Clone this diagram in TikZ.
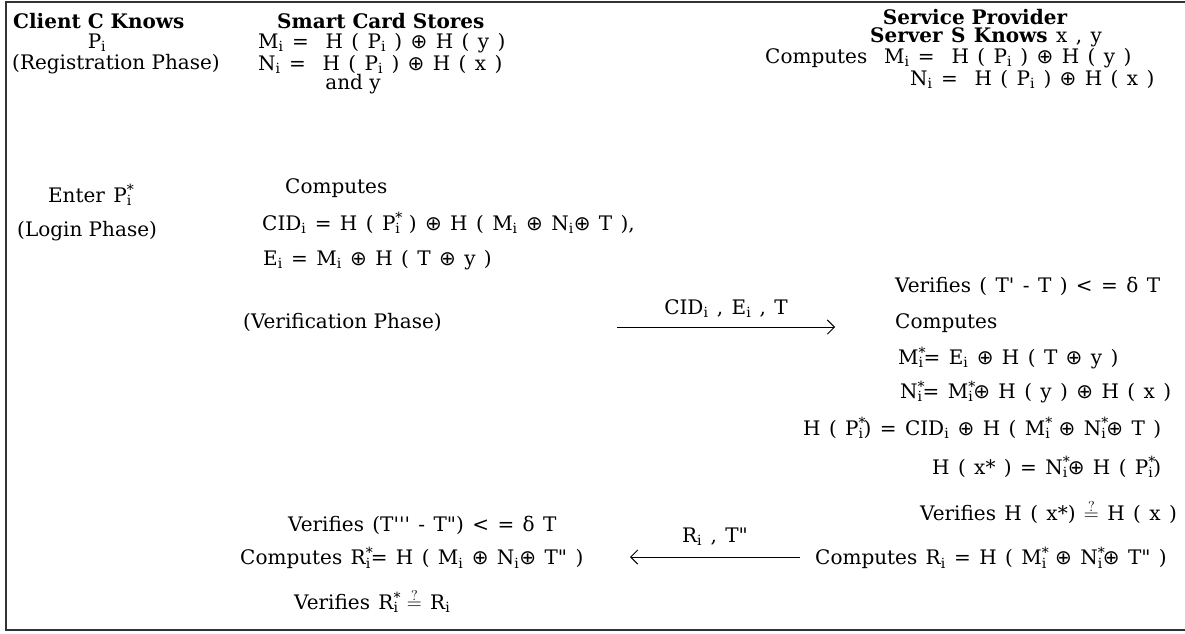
\documentclass[tikz,border=0pt]{standalone}
\usepackage{fontspec}
\setmainfont{DejaVu Serif}
\newfontfamily\symfont{DejaVu Sans}
\usetikzlibrary{positioning,arrows.meta}

\newcommand{\sub}[1]{\textsubscript{#1}}
\newcommand{\str}[1]{#1\rlap{\textsuperscript{*}}\textsubscript{i}}
\newcommand{\xo}{{\symfont ⊕}}
\newcommand{\qeq}{\ensuremath{\stackrel{?}{=}}}
\newcommand{\pr}{\textquotesingle}
\newcommand{\dpr}{\textquotedbl}
\newcommand{\eqfont}{\fontsize{20}{22}\selectfont\spaceskip=.42em plus .1em\relax}

\begin{document}
\begin{tikzpicture}[x=1pt, y=-1pt,
  >={Straight Barb[length=2.5mm]},
  lbl/.style={inner sep=0pt, anchor=west, font=\fontsize{20}{22}\selectfont},
  eq/.style={lbl, font=\eqfont},
  hdr/.style={lbl, font=\fontsize{20}{22}\selectfont\bfseries},
  msg/.style={->, line width=0.9pt},
]
\useasboundingbox (0,0) rectangle (1185,633);
\draw[line width=1.6pt, black!80] (1200,2) -- (6,2) -- (6,630) -- (1200,630);

% client column
\node[hdr] (client) at (13,21) {Client C Knows};
\node[eq, anchor=center] (pi) at (97,43) {P\sub{i}};
\node[lbl] (reg) at (12,64) {(Registration Phase)};
\node[eq, anchor=center] (enter) at (90,195) {Enter \str{P}};
\node[lbl] (login) at (17,231) {(Login Phase)};

% smart card column
\node[hdr] (card) at (277,21) {Smart Card Stores};
\node[eq] (cmi) at (258,43) {M\sub{i} = \ H ( P\sub{i} ) \xo{} H ( y )};
\node[eq] (cni) at (258,64) {N\sub{i} = \ H ( P\sub{i} ) \xo{} H ( x )};
\node[lbl, anchor=center] (andy) at (353,84) {and y};
\node[lbl] (ccomp) at (285,188) {Computes};
\node[eq] (cid) at (262,223) {CID\sub{i} = H ( \str{P} ) \xo{} H ( M\sub{i} \xo{} N\sub{i}\xo{} T ),};
\node[eq] (cei) at (263,260) {E\sub{i} = M\sub{i} \xo{} H ( T \xo{} y )};
\node[lbl] (verif) at (243,322) {(Verification Phase)};
\node[eq] (cver) at (288,525) {Verifies (T\pr\pr\pr{} - T\dpr) < = δ T};
\node[eq] (crst) at (240,558) {Computes \str{R}= H ( M\sub{i} \xo{} N\sub{i}\xo{} T\dpr{} )};
\node[eq] (crchk) at (294,601) {Verifies \str{R} \qeq{} R\sub{i}};

% server column
\node[hdr, anchor=center] (prov) at (975,17) {Service Provider};
\node[eq, anchor=center] (srv) at (986,37) {\textbf{Server S Knows} x , y};
\node[eq] (smi) at (765,58) {Computes \ M\sub{i} = \ H ( P\sub{i} ) \xo{} H ( y )};
\node[eq] (sni) at (910,79) {N\sub{i} = \ H ( P\sub{i} ) \xo{} H ( x )};
\node[eq] (sver) at (895,286) {Verifies ( T\pr{} - T ) < = δ T};
\node[lbl] (scomp) at (895,323) {Computes};
\node[eq] (smst) at (898,358) {\str{M}= E\sub{i} \xo{} H ( T \xo{} y )};
\node[eq] (snst) at (900,392) {\str{N}= \str{M}\xo{} H ( y ) \xo{} H ( x )};
\node[eq] (shp) at (803,428) {H ( \str{P}) = CID\sub{i} \xo{} H ( \str{M} \xo{} \str{N}\xo{} T )};
\node[eq] (shx) at (932,467) {H ( x* ) = \str{N}\xo{} H ( \str{P})};
\node[eq] (shchk) at (920,512) {Verifies H ( x*) \qeq{} H ( x )};
\node[eq] (sri) at (815,558) {Computes R\sub{i} = H ( \str{M} \xo{} \str{N}\xo{} T\dpr{} )};

% messages
\coordinate (m1a) at (617,327);
\coordinate (m1b) at (835,327);
\draw[msg] (m1a) -- node[eq, anchor=south, above=9pt] (m1) {CID\sub{i} , E\sub{i} , T} (m1b);
\coordinate (m2a) at (800,557);
\coordinate (m2b) at (630,557);
\draw[msg] (m2a) -- node[eq, anchor=south, above=11pt] (m2) {R\sub{i} , T\dpr} (m2b);
\end{tikzpicture}
\end{document}
